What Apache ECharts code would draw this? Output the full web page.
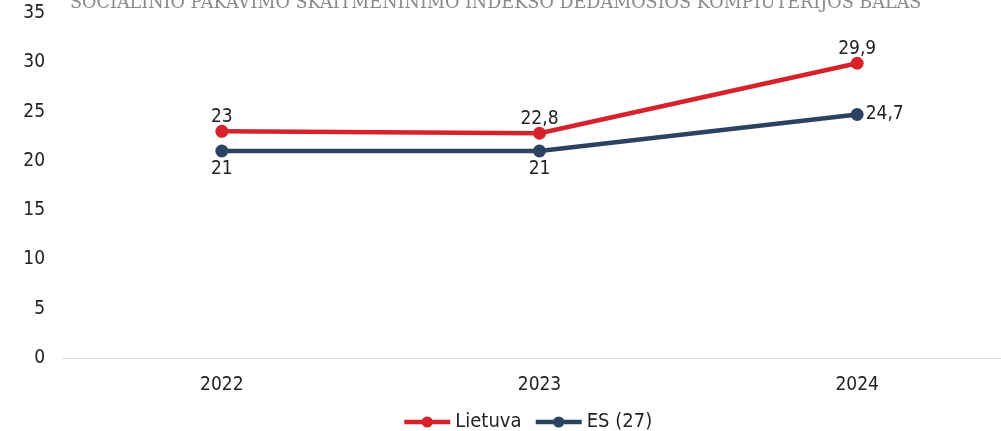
<!DOCTYPE html>
<html>
<head>
<meta charset="utf-8">
<script src="https://cdn.jsdelivr.net/npm/echarts@6/dist/echarts.min.js"></script>
<style>
  html, body { margin: 0; padding: 0; background: #fff; overflow: hidden; }
  #main { width: 1016px; height: 431px; }
</style>
</head>
<body>
<div id="main"></div>
<script>
// metai
var years = ['2022', '2023', '2024'];
// balai
var lietuva = [23, 22.8, 29.9];
var es27 = [21, 21, 24.7];
var titleText = 'SOCIALINIO PAKAVIMO SKAITMENINIMO INDEKSO DEDAMOSIOS KOMPIUTERIJOS BALAS';

var font = 'DejaVu Sans Condensed';

function fmt(p) {
  return String(p.value).replace('.', ',');
}

var chart = echarts.init(document.getElementById('main'));
chart.setOption({
  title: {
    text: titleText,
    left: 65,
    top: -11,
    textStyle: {
      fontFamily: 'DejaVu Serif',
      fontWeight: 'normal',
      fontSize: 17.6,
      color: '#8a8a8a'
    }
  },
  grid: {
    left: 63,
    top: 13,
    bottom: 73,
    right: 0
  },
  legend: {
    bottom: -6,
    left: 397,
    itemWidth: 46,
    itemHeight: 14,
    itemGap: 12,
    lineStyle: { width: 4.5 },
    textStyle: { fontFamily: font, fontSize: 20, color: '#222' },
    data: ['Lietuva', 'ES (27)']
  },
  xAxis: {
    type: 'category',
    data: years,
    axisTick: { show: false },
    axisLine: { lineStyle: { color: '#d9d9d9', width: 1 } },
    axisLabel: { color: '#222', fontFamily: font, fontSize: 19, margin: 18 }
  },
  yAxis: {
    type: 'value',
    min: 0,
    max: 35,
    interval: 5,
    splitLine: { show: false },
    axisLabel: { color: '#222', fontFamily: font, fontSize: 19, margin: 18 }
  },
  series: [
    {
      name: 'Lietuva',
      type: 'line',
      data: lietuva,
      symbol: 'circle',
      symbolSize: 13,
      color: '#d8222b',
      lineStyle: { width: 4.5, color: '#d8222b' },
      label: {
        show: true,
        position: 'top',
        distance: -2,
        formatter: fmt,
        fontFamily: font,
        fontSize: 19,
        color: '#222'
      }
    },
    {
      name: 'ES (27)',
      type: 'line',
      data: es27.map(function (v, i) {
        return i === es27.length - 1 ? { value: v, label: { position: 'right', distance: 2 } } : v;
      }),
      symbol: 'circle',
      symbolSize: 13,
      color: '#2b4262',
      lineStyle: { width: 4.5, color: '#2b4262' },
      label: {
        show: true,
        position: 'bottom',
        distance: 2,
        formatter: fmt,
        fontFamily: font,
        fontSize: 19,
        color: '#222'
      }
    }
  ]
});
</script>
</body>
</html>
